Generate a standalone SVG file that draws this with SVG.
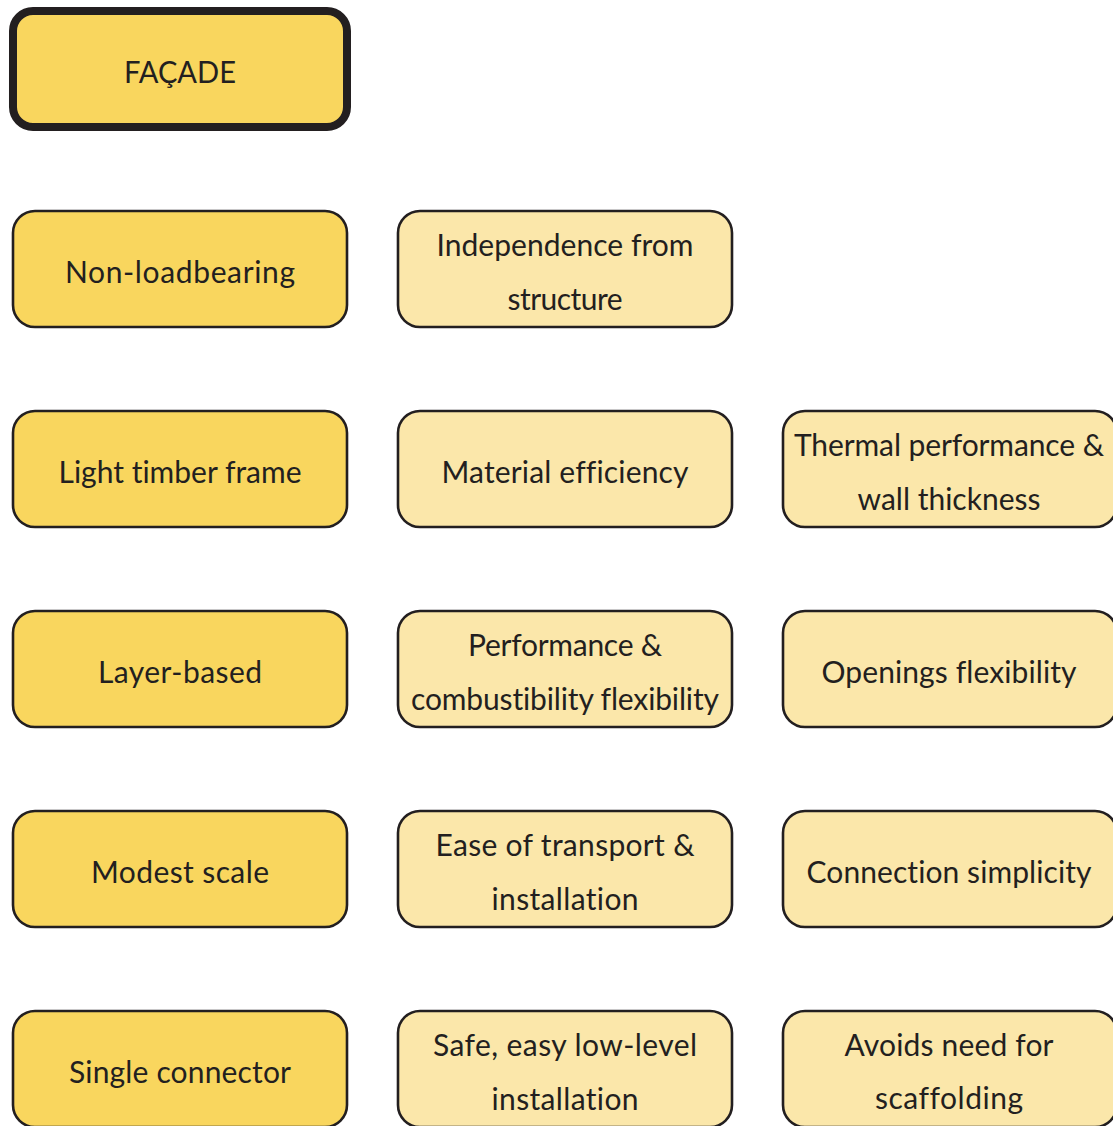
<svg xmlns="http://www.w3.org/2000/svg" width="1113" height="1126" viewBox="0 0 1113 1126">
  <style>
    .box { stroke: #231f20; stroke-width: 2.6; }
    .key { fill: #f9d65e; }
    .sub { fill: #fbe7aa; }
    .root { fill: #f9d65e; stroke: #231f20; stroke-width: 8; }
    text { font-family: Lato, "Open Sans", sans-serif; font-size: 30px; fill: #231f20; text-anchor: middle; font-variant-ligatures: none; }
  </style>
  <rect width="1113" height="1126" fill="#ffffff"/>

  <g id="facade">
    <rect class="root" x="13" y="11" width="334" height="116" rx="20"/>
    <text x="180" y="83" textLength="112" lengthAdjust="spacingAndGlyphs">FAÇADE</text>
  </g>

  <!-- Column 1: façade properties -->
  <g id="non-loadbearing">
    <rect class="box key" x="13" y="211" width="334" height="116" rx="22"/>
    <text x="180" y="283" textLength="230" lengthAdjust="spacing">Non-loadbearing</text>
  </g>
  <g id="light-timber-frame">
    <rect class="box key" x="13" y="411" width="334" height="116" rx="22"/>
    <text x="180" y="483" textLength="243" lengthAdjust="spacing">Light timber frame</text>
  </g>
  <g id="layer-based">
    <rect class="box key" x="13" y="611" width="334" height="116" rx="22"/>
    <text x="180" y="683" textLength="164" lengthAdjust="spacing">Layer-based</text>
  </g>
  <g id="modest-scale">
    <rect class="box key" x="13" y="811" width="334" height="116" rx="22"/>
    <text x="180" y="883" textLength="178" lengthAdjust="spacing">Modest scale</text>
  </g>
  <g id="single-connector">
    <rect class="box key" x="13" y="1011" width="334" height="116" rx="22"/>
    <text x="180" y="1083" textLength="222" lengthAdjust="spacing">Single connector</text>
  </g>

  <!-- Column 2: first-order benefits -->
  <g id="independence">
    <rect class="box sub" x="398" y="211" width="334" height="116" rx="22"/>
    <text x="565" y="256" textLength="257" lengthAdjust="spacing">Independence from</text>
    <text x="565" y="310" textLength="115" lengthAdjust="spacing">structure</text>
  </g>
  <g id="material-efficiency">
    <rect class="box sub" x="398" y="411" width="334" height="116" rx="22"/>
    <text x="565" y="483" textLength="247" lengthAdjust="spacing">Material efficiency</text>
  </g>
  <g id="performance-flexibility">
    <rect class="box sub" x="398" y="611" width="334" height="116" rx="22"/>
    <text x="565" y="656" textLength="194" lengthAdjust="spacing">Performance &amp;</text>
    <text x="565" y="710" textLength="308" lengthAdjust="spacing">combustibility flexibility</text>
  </g>
  <g id="transport-installation">
    <rect class="box sub" x="398" y="811" width="334" height="116" rx="22"/>
    <text x="565" y="856" textLength="259" lengthAdjust="spacing">Ease of transport &amp;</text>
    <text x="565" y="910" textLength="147" lengthAdjust="spacing">installation</text>
  </g>
  <g id="low-level-installation">
    <rect class="box sub" x="398" y="1011" width="334" height="116" rx="22"/>
    <text x="565" y="1056" textLength="264" lengthAdjust="spacing">Safe, easy low-level</text>
    <text x="565" y="1110" textLength="147" lengthAdjust="spacing">installation</text>
  </g>

  <!-- Column 3: second-order benefits -->
  <g id="thermal-performance">
    <rect class="box sub" x="783" y="411" width="334" height="116" rx="22"/>
    <text x="949" y="456" textLength="310" lengthAdjust="spacing">Thermal performance &amp;</text>
    <text x="949" y="510" textLength="183" lengthAdjust="spacing">wall thickness</text>
  </g>
  <g id="openings-flexibility">
    <rect class="box sub" x="783" y="611" width="334" height="116" rx="22"/>
    <text x="949" y="683" textLength="255" lengthAdjust="spacing">Openings flexibility</text>
  </g>
  <g id="connection-simplicity">
    <rect class="box sub" x="783" y="811" width="334" height="116" rx="22"/>
    <text x="949" y="883" textLength="285" lengthAdjust="spacing">Connection simplicity</text>
  </g>
  <g id="no-scaffolding">
    <rect class="box sub" x="783" y="1011" width="334" height="116" rx="22"/>
    <text x="949" y="1056" textLength="209" lengthAdjust="spacing">Avoids need for</text>
    <text x="949" y="1109" textLength="148" lengthAdjust="spacing">scaffolding</text>
  </g>

  <!-- no connectors are drawn between the boxes -->
  <g id="connectors"/>
</svg>
